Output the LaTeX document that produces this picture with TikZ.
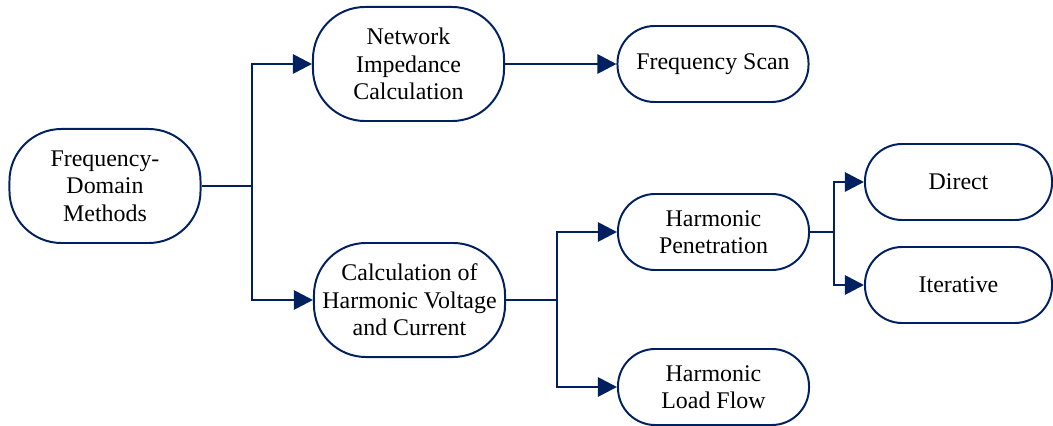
\documentclass[tikz,border=0pt]{standalone}
\usepackage{fontspec}
\setmainfont{Liberation Serif}
\usepackage{tikz}
\usetikzlibrary{arrows.meta,positioning}
\definecolor{navy}{RGB}{0,32,96}

\begin{document}
\begin{tikzpicture}[
    x=0.025cm, y=-0.025cm,
    method/.style={draw=navy, line width=1.4pt, fill=white, align=center,
        font=\fontsize{17}{19.6}\selectfont, minimum width=4.775cm, inner sep=2pt},
    tallbox/.style={method, minimum height=2.85cm, rounded corners=1.3cm},
    shortbox/.style={method, minimum height=1.9cm, rounded corners=0.93cm},
    conn/.style={draw=navy, line width=2pt},
    arr/.style={conn, -{Triangle[length=0.48cm, width=0.48cm]}},
]
    \useasboundingbox (0,0) rectangle (1053,426);

    % Boxes
    \node[tallbox] (fdm) at (105,186) {Frequency-\\Domain\\Methods};
    \node[tallbox] (nic) at (408.5,64) {Network\\Impedance\\Calculation};
    \node[shortbox] (fscan) at (713,64) {Frequency Scan};
    \node[tallbox] (chvc) at (409.5,300) {Calculation of\\Harmonic Voltage\\and Current};
    \node[shortbox] (hpen) at (713.5,232) {Harmonic\\Penetration};
    \node[shortbox] (hlf) at (713.5,387) {Harmonic\\Load Flow};
    \node[shortbox, minimum width=4.675cm] (direct) at (958.5,182) {Direct};
    \node[shortbox, minimum width=4.675cm] (iter) at (958.5,285) {Iterative};

    % Junctions
    \coordinate (j1) at (252,186);
    \coordinate (j2) at (557,300);
    \coordinate (j3) at (834,232);

    % Connectors
    \draw[conn] (fdm.east) -- (j1);
    \draw[arr] (j1) |- (nic.west);
    \draw[arr] (j1) |- (chvc.west);
    \draw[arr] (nic.east) -- (fscan.west);

    \draw[conn] (chvc.east) -- (j2);
    \draw[arr] (j2) |- (hpen.west);
    \draw[arr] (j2) |- (hlf.west);

    \draw[conn] (hpen.east) -- (j3);
    \draw[arr] (j3) |- (direct.west);
    \draw[arr] (j3) |- (iter.west);
\end{tikzpicture}
\end{document}
